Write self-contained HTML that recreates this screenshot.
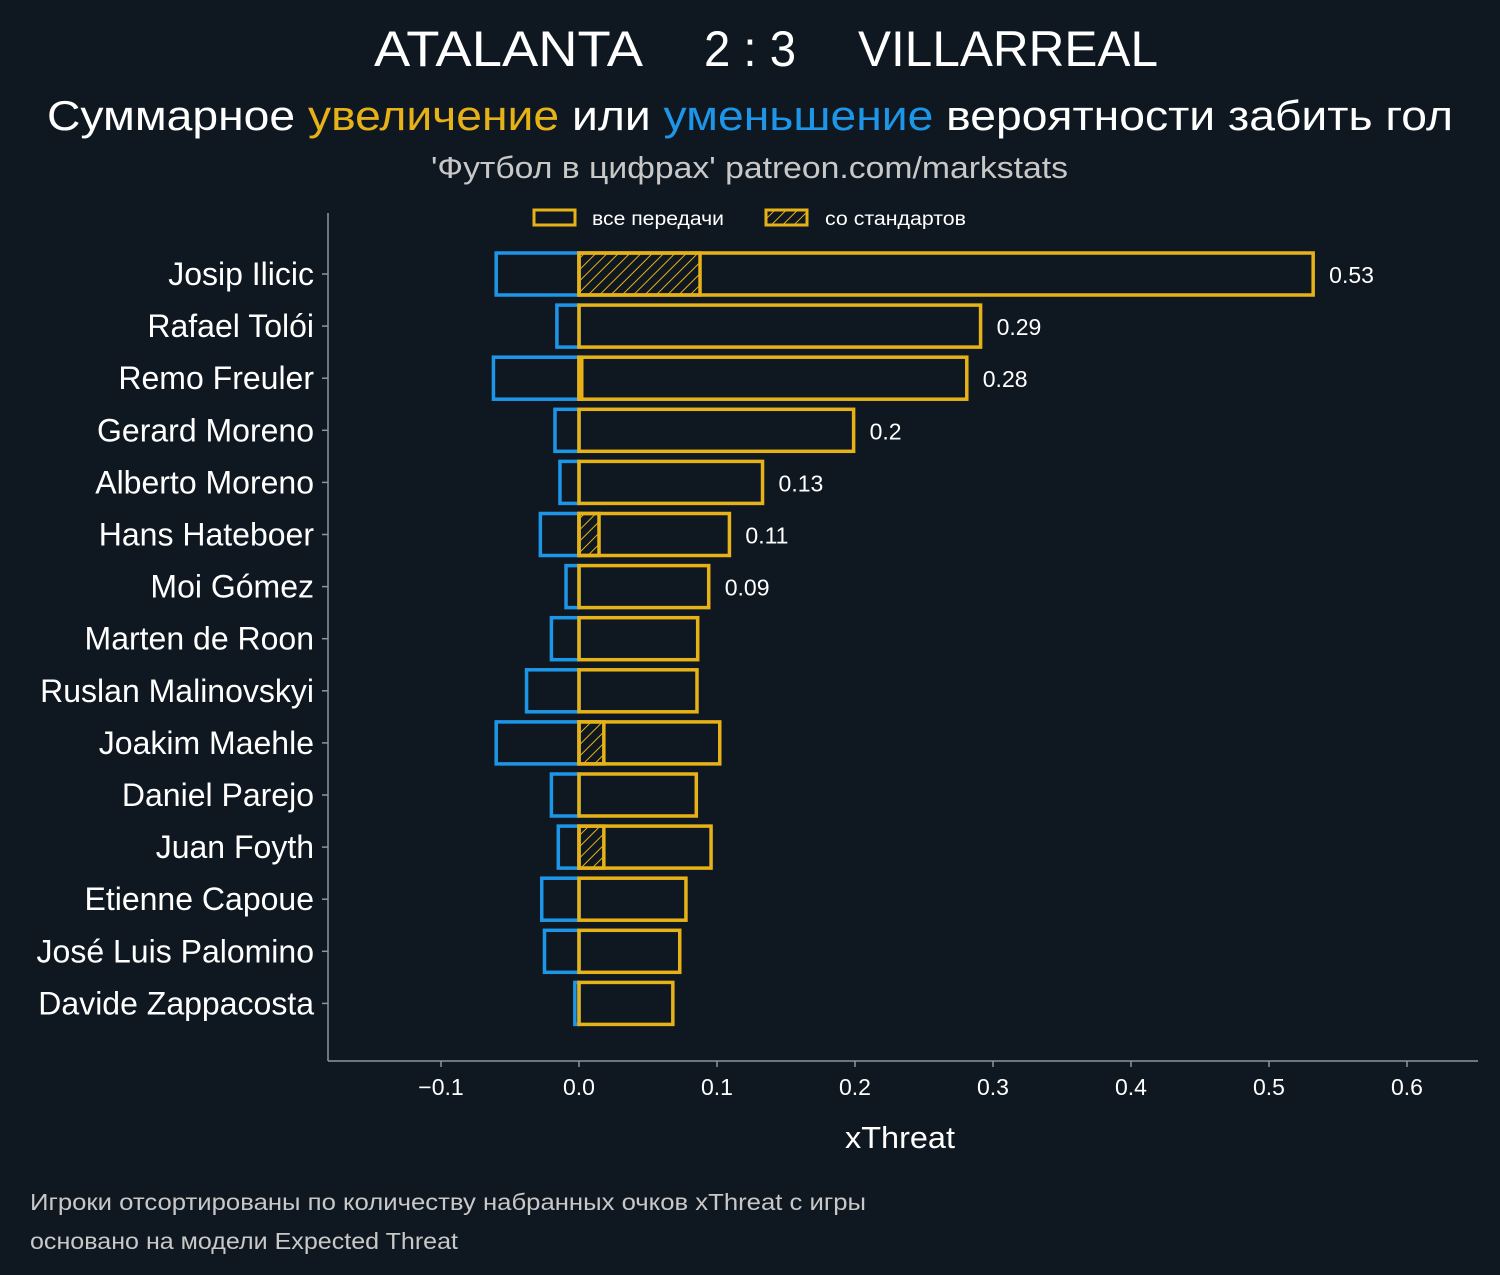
<!DOCTYPE html>
<html><head><meta charset="utf-8"><style>
body{margin:0;background:#0f1820;}
svg{display:block;font-family:"Liberation Sans","DejaVu Sans",sans-serif;}
</style></head><body>
<svg id="c" width="1500" height="1275" xmlns="http://www.w3.org/2000/svg">
<defs><pattern id="hatch" patternUnits="userSpaceOnUse" width="8" height="8" patternTransform="rotate(45)"><line x1="0" y1="0" x2="0" y2="8" stroke="#e6b218" stroke-width="2"/></pattern></defs>
<rect width="1500" height="1275" fill="#0f1820"/>
<g>
<text x="374" y="66" font-size="50" fill="#fff" textLength="269" lengthAdjust="spacingAndGlyphs">ATALANTA</text>
<text x="704" y="66" font-size="50" fill="#fff" textLength="92" lengthAdjust="spacingAndGlyphs">2 : 3</text>
<text x="858" y="66" font-size="50" fill="#fff" textLength="300" lengthAdjust="spacingAndGlyphs">VILLARREAL</text>
</g>
<text x="47" y="130" font-size="42" fill="#fff" textLength="1406" lengthAdjust="spacingAndGlyphs">Суммарное <tspan fill="#e6b218">увеличение</tspan> или <tspan fill="#1e96e8">уменьшение</tspan> вероятности забить гол</text>
<text x="431" y="178" font-size="31" fill="#c8c8c8" textLength="637" lengthAdjust="spacingAndGlyphs">'Футбол в цифрах' patreon.com/markstats</text>
<g>
<rect x="534" y="210" width="41" height="15" fill="none" stroke="#e6b218" stroke-width="3"/>
<text x="592" y="225" font-size="19" fill="#fff" textLength="132" lengthAdjust="spacingAndGlyphs">все передачи</text>
<rect x="766" y="210" width="41" height="15" fill="url(#hatch)" stroke="#e6b218" stroke-width="3"/>
<text x="825" y="225" font-size="19" fill="#fff" textLength="141" lengthAdjust="spacingAndGlyphs">со стандартов</text>
</g>
<line x1="328" y1="213" x2="328" y2="1061" stroke="#8a96a0" stroke-width="1.5"/>
<line x1="328" y1="1061" x2="1478" y2="1061" stroke="#8a96a0" stroke-width="1.5"/>
<g id="plot"></g>
<text x="845" y="1148" font-size="31" fill="#fff" textLength="110" lengthAdjust="spacingAndGlyphs">xThreat</text>
<text x="30" y="1210" font-size="23" fill="#c8c8c8" textLength="836" lengthAdjust="spacingAndGlyphs">Игроки отсортированы по количеству набранных очков xThreat с игры</text>
<text x="30" y="1249" font-size="23" fill="#c8c8c8" textLength="428" lengthAdjust="spacingAndGlyphs">основано на модели Expected Threat</text>
</svg>
<script>
const players=["Josip Ilicic","Rafael Tolói","Remo Freuler","Gerard Moreno","Alberto Moreno","Hans Hateboer","Moi Gómez","Marten de Roon","Ruslan Malinovskyi","Joakim Maehle","Daniel Parejo","Juan Foyth","Etienne Capoue","José Luis Palomino","Davide Zappacosta"];
const positive=[0.532,0.291,0.281,0.199,0.133,0.109,0.094,0.086,0.0855,0.102,0.085,0.0957,0.0775,0.073,0.068];
const setPiece=[0.0877,0,0.002,0,0,0.0145,0,0,0,0.018,0,0.018,0,0,0];
const negative=[-0.060,-0.016,-0.062,-0.0174,-0.0138,-0.028,-0.0094,-0.020,-0.038,-0.060,-0.020,-0.015,-0.027,-0.025,-0.003];
const totalLabels=["0.53","0.29","0.28","0.2","0.13","0.11","0.09","","","","","","","",""];
const xTicks=[-0.1,0,0.1,0.2,0.3,0.4,0.5,0.6];
const xTickLabels=["−0.1","0.0","0.1","0.2","0.3","0.4","0.5","0.6"];
const NS="http://www.w3.org/2000/svg";
const g=document.getElementById('plot');
const X=v=>579+v*1380;
const Y=i=>274+i*52.1;
function mk(t,a){const e=document.createElementNS(NS,t);for(const k in a)e.setAttribute(k,a[k]);g.appendChild(e);return e;}
xTicks.forEach((v,i)=>{
 const t=mk('line',{x1:X(v),x2:X(v),y1:1061,y2:1067,stroke:'#8a96a0','stroke-width':1.5});
 
 
 const l=mk('text',{x:X(v),y:1095,'text-anchor':'middle','font-size':23,fill:'#fff'});
 l.textContent=xTickLabels[i];
 
 
});
players.forEach((p,i)=>{
 const y=Y(i),h=42;
 const t=mk('line',{x1:322,x2:328,y1:y,y2:y,stroke:'#8a96a0','stroke-width':1.5});
 
 
 const l=mk('text',{x:314,y:y+11,'text-anchor':'end','font-size':32,fill:'#fff'});
 l.textContent=p;
 
 
 const n=mk('rect',{x:X(negative[i]),y:y-h/2,width:X(0)-X(negative[i]),height:h,fill:'none',stroke:'#1e96e8','stroke-width':3.5});
 
 
 if(setPiece[i]>0){
  const s=mk('rect',{x:X(0),y:y-h/2,width:X(setPiece[i])-X(0),height:h,fill:'url(#hatch)',stroke:'#e6b218','stroke-width':3.5});
  
  
 }
 const b=mk('rect',{x:X(0),y:y-h/2,width:X(positive[i])-X(0),height:h,fill:'none',stroke:'#e6b218','stroke-width':3.5});
 
 
 if(totalLabels[i]){
  const v=mk('text',{x:X(positive[i])+16,y:y+9,'font-size':23,fill:'#fff'});
  v.textContent=totalLabels[i];
  
  
 }
});
</script>
</body></html>
